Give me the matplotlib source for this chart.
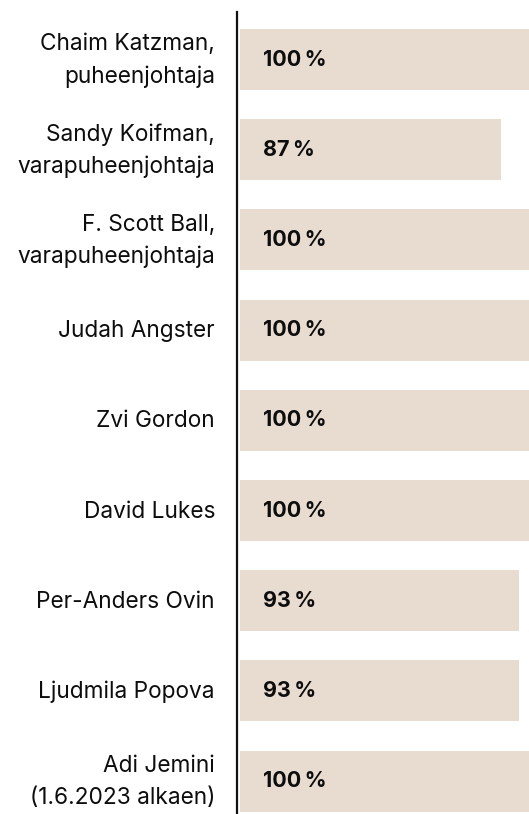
import matplotlib
matplotlib.use("Agg")
import matplotlib.pyplot as plt

names = [
    "Chaim Katzman,\npuheenjohtaja",
    "Sandy Koifman,\nvarapuheenjohtaja",
    "F. Scott Ball,\nvarapuheenjohtaja",
    "Judah Angster",
    "Zvi Gordon",
    "David Lukes",
    "Per-Anders Ovin",
    "Ljudmila Popova",
    "Adi Jemini\n(1.6.2023 alkaen)",
]
values = [100, 87, 100, 100, 100, 100, 93, 93, 100]
value_labels = [f"{v}\u2009%" for v in values]

W, H = 529, 814
fig = plt.figure(figsize=(W / 100, H / 100), dpi=100)
ax = fig.add_axes([240 / W, 0, 1 - 240 / W, 1])

n = len(values)
pos = list(range(n))
ax.barh(pos, values, height=61 / 90.2, color="#E8DBD0", left=0)
ax.set_xlim(0, (W - 240) / 3)
top = -59.5 / 90.2
ax.set_ylim(top + H / 90.2, top)
ax.axis("off")

fam = ["Inter", "DejaVu Sans"]
for i, lbl in enumerate(value_labels):
    ax.text(23 / 3, i, lbl, ha="left", va="center", fontsize=15.5,
            fontweight="bold", family=fam, color="#0d0d0d")

for i, name in enumerate(names):
    fig.text(215 / W, 1 - (60.5 + i * 90.2) / H, name, ha="right", va="center",
             fontsize=16.3, family=fam, color="#0d0d0d",
             linespacing=1.55)

# vertical axis line
fig.add_artist(plt.Line2D([237 / W, 237 / W], [1 - 12 / H, 0], color="#111111",
                          linewidth=1.6, transform=fig.transFigure))

fig.savefig("out.png", dpi=100)
